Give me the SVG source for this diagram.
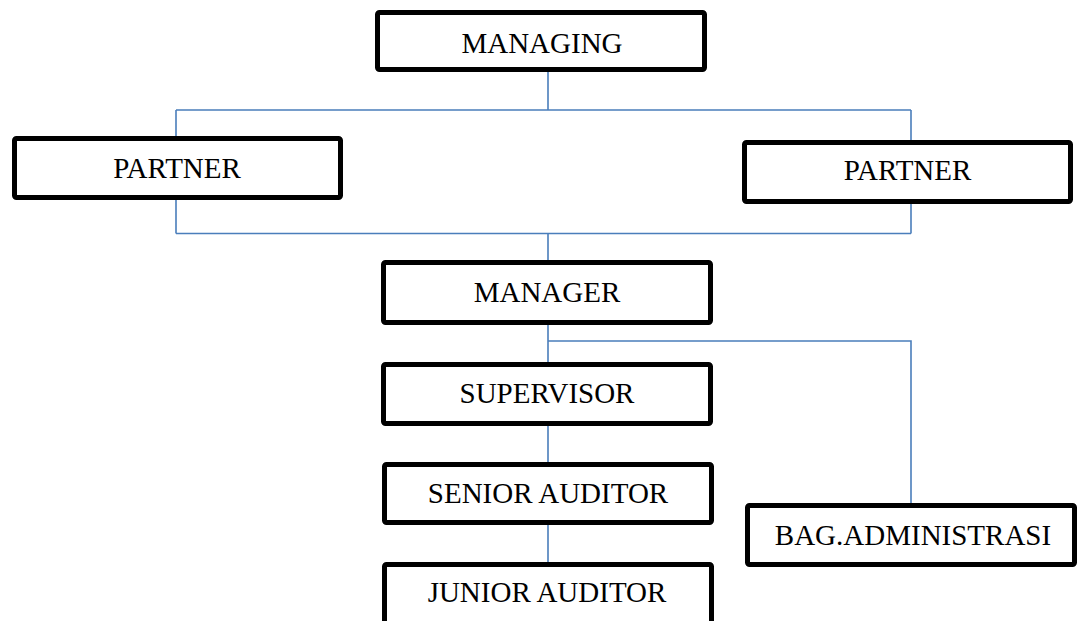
<svg xmlns="http://www.w3.org/2000/svg" width="1079" height="621" viewBox="0 0 1079 621">
<style>
.box{fill:#ffffff;stroke:#000000;stroke-width:5;}
.lbl{font-family:"Liberation Serif","Times New Roman",serif;font-size:29px;fill:#000000;text-anchor:middle;}
.conn{fill:none;stroke:#4a7ebb;stroke-width:1.6;}
</style>
<rect width="1079" height="621" fill="#ffffff"/>
<g id="connectors">
<path class="conn" d="M548,72 V110 M176,110 H911 M176,110 V233.5 M911,110 V233.5 M176,233.5 H911 M548,233.5 V260"/>
<path class="conn" d="M548,325 V362 M548,341 H911 V503 M548,426 V462 M548,525 V562"/>
</g>
<g id="managing"><rect class="box" x="377.5" y="12.5" width="327" height="57" rx="2"/><text class="lbl" x="542" y="53">MANAGING</text></g>
<g id="partner-left"><rect class="box" x="14.5" y="138.5" width="326" height="59" rx="2"/><text class="lbl" x="177" y="178">PARTNER</text></g>
<g id="partner-right"><rect class="box" x="744.5" y="142.5" width="326" height="59" rx="2"/><text class="lbl" x="907.5" y="180">PARTNER</text></g>
<g id="manager"><rect class="box" x="383.5" y="262.5" width="327" height="60" rx="2"/><text class="lbl" x="547" y="302">MANAGER</text></g>
<g id="supervisor"><rect class="box" x="383.5" y="364.5" width="327" height="59" rx="2"/><text class="lbl" x="547" y="403">SUPERVISOR</text></g>
<g id="senior-auditor"><rect class="box" x="384.5" y="464.5" width="327" height="58" rx="2"/><text class="lbl" x="548" y="503">SENIOR AUDITOR</text></g>
<g id="junior-auditor"><rect class="box" x="384.5" y="564.5" width="327" height="70" rx="2"/><text class="lbl" x="547" y="602">JUNIOR AUDITOR</text></g>
<g id="bag-administrasi"><rect class="box" x="747.5" y="505.5" width="327" height="59" rx="2"/><text class="lbl" x="913" y="545">BAG.ADMINISTRASI</text></g>
</svg>
